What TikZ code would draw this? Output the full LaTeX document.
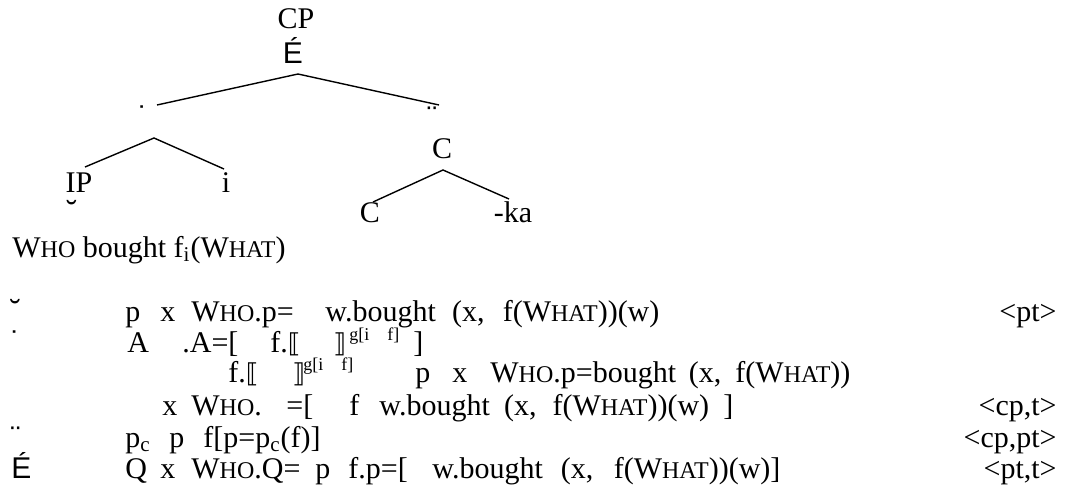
\documentclass[tikz,border=0pt]{standalone}
\usepackage{fontspec}
\setmainfont{Liberation Serif}
\newfontfamily\marksfont{Liberation Sans}
\newfontfamily\bracketfont{DejaVu Sans}
\usetikzlibrary{positioning}

% hand-made small caps for the wh-words
\newcommand{\smc}[1]{{\fontsize{12}{12}\selectfont #1}}
\newcommand{\Who}{W\smc{HO}}
\newcommand{\What}{W\smc{HAT}}
\newcommand{\lsem}{{\bracketfont\fontsize{13}{13}\selectfont ⟦}}
\newcommand{\rsem}{{\bracketfont\fontsize{13}{13}\selectfont ⟧}}
% loose word spacing in the long formulas
\newcommand{\spread}[2]{\makebox[#1][s]{#2}}

\begin{document}
\begin{tikzpicture}[
  x=0.5pt, y=-0.5pt,
  every node/.style={inner sep=0pt, font=\fontsize{15}{18}\selectfont},
  lbl/.style={anchor=base},
  txt/.style={anchor=base west},
  typ/.style={anchor=base east},
  glyph/.style={anchor=base, font=\marksfont\fontsize{15}{18}\selectfont},
  index/.style={anchor=base west, font=\fontsize{9}{10}\selectfont},
  branch/.style={line width=0.7pt}
]
\useasboundingbox (0,0) rectangle (1070,487);

%% Tree
\node[lbl] (cp) at (296,28) {CP};
\node[glyph] (cp-mark) at (293,63) {É};
\node[glyph] (left) at (143,127) {˙};
\node[glyph] (right) at (432,127) {¨};
\node[lbl] (ip) at (79,192) {IP};
\node[glyph] (ip-mark) at (72,222) {˘};
\node[lbl] (ti) at (226,192) {i};
\node[lbl] (cbar) at (442,158) {C};
\node[lbl] (c0) at (370,222) {C};
\node[lbl] (ka) at (513,222) {-ka};

\coordinate (cp-fork) at (298,74);
\coordinate (left-end) at (157,105);
\coordinate (right-end) at (439,105);
\coordinate (ip-fork) at (154,138);
\coordinate (ip-end) at (85,167);
\coordinate (ti-end) at (224,169);
\coordinate (cbar-fork) at (443,170);
\coordinate (c0-end) at (373,202);
\coordinate (ka-end) at (509,199);

\draw[branch] (left-end) -- (cp-fork) -- (right-end);
\draw[branch] (ip-end) -- (ip-fork) -- (ti-end);
\draw[branch] (c0-end) -- (cbar-fork) -- (ka-end);

%% Surface string
\node[txt] (surface) at (12,257) {\Who{} bought f\textsubscript{i}(\What)};

%% Derivation, one line per row
\node[glyph] (m1) at (15.5,321) {˘};
\node[txt] (r1a) at (125,321) {p};
\node[txt] (r1b) at (160,321) {x};
\node[txt] (r1c) at (191,321) {\Who.p=};
\node[txt] (r1d) at (325,321) {\spread{167pt}{w.bought (x, f(\What))(w)}};
\node[typ] (r1t) at (1057,321) {<pt>};

\node[glyph] (m2) at (15.5,352) {˙};
\node[txt] (r2a) at (127,352) {A};
\node[txt] (r2b) at (182,352) {.A=[};
\node[txt] (r2c) at (270,352) {f.\lsem};
\node[txt] (r2d) at (333,352) {\rsem};
\node[index] (r2e) at (349,340) {g[i};
\node[index] (r2f) at (387,340) {f]};
\node[txt] (r2g) at (413,352) {]};

\node[txt] (r3a) at (228,382) {f.\lsem};
\node[txt] (r3b) at (292,382) {\rsem};
\node[index] (r3c) at (303,370) {g[i};
\node[index] (r3d) at (341,370) {f]};
\node[txt] (r3e) at (415,382) {p};
\node[txt] (r3f) at (452,382) {x};
\node[txt] (r3g) at (490,382) {\spread{180pt}{\Who.p=bought (x, f(\What))}};

\node[txt] (r4a) at (162,415) {x};
\node[txt] (r4b) at (191,415) {\Who.};
\node[txt] (r4c) at (286,415) {=[};
\node[txt] (r4d) at (349,415) {f};
\node[txt] (r4e) at (379,415) {\spread{177pt}{w.bought (x, f(\What))(w) ]}};
\node[typ] (r4t) at (1057,415) {<cp,t>};

\node[glyph] (m5) at (15.5,447) {¨};
\node[txt] (r5a) at (125,447) {p\textsubscript{c}};
\node[txt] (r5b) at (169,447) {p};
\node[txt] (r5c) at (203,447) {f[p=p\textsubscript{c}(f)]};
\node[typ] (r5t) at (1057,447) {<cp,pt>};

\node[glyph, anchor=base west] (m6) at (11,478) {É};
\node[txt] (r6a) at (125,478) {Q};
\node[txt] (r6b) at (160,478) {x};
\node[txt] (r6c) at (191,478) {\Who.Q=};
\node[txt] (r6d) at (315,478) {p};
\node[txt] (r6e) at (348,478) {f.p=[};
\node[txt] (r6f) at (432,478) {\spread{174pt}{w.bought (x, f(\What))(w)]}};
\node[typ] (r6t) at (1057,478) {<pt,t>};

\end{tikzpicture}
\end{document}
